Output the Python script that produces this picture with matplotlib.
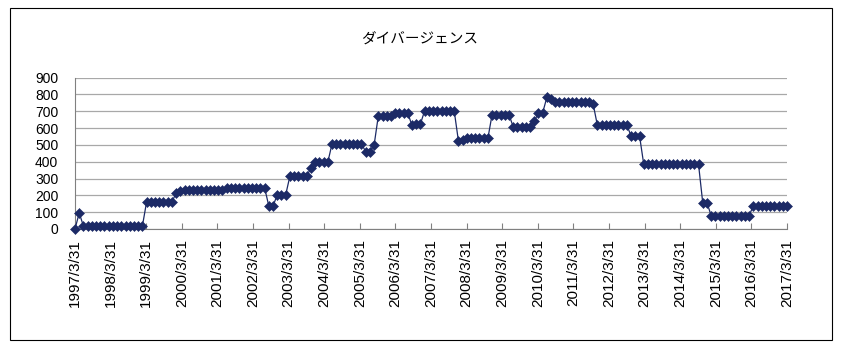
import pandas as pd
import matplotlib.pyplot as plt
import matplotlib.patches as mpatches

plt.rcParams['font.family'] = ['Liberation Sans', 'Noto Sans CJK JP', 'DejaVu Sans']

title = 'ダイバージェンス'
start_date = '1997-03-31'
end_date = '2017-03-31'
tick_years = list(range(1997, 2018))

divergence = [
    0, 95,
    18, 18, 18, 18, 18, 18, 18, 18, 18, 18, 18, 18, 18, 18, 18,
    162, 162, 162, 162, 162, 162, 162,
    212, 228,
    230, 230, 230, 230, 230, 230, 230, 230, 230, 230,
    245, 245, 245, 245, 245, 245, 245, 245, 245, 245,
    137, 137,
    202, 202, 202,
    313, 313, 313, 313, 313,
    364,
    396, 396, 396, 396,
    505, 505, 505, 505, 505, 505, 505, 505,
    460, 460,
    499,
    673, 673, 673, 673,
    687, 687, 687, 687,
    615, 625, 625,
    703, 703, 703, 703, 703, 703, 703, 703,
    525, 527,
    538, 538, 538, 538, 538, 538,
    680, 680, 680, 680, 680,
    608, 608, 608, 608, 608,
    643, 687, 690, 782, 775,
    757, 757, 757, 757, 757, 757, 757, 757, 757,
    741,
    615, 615, 615, 615, 615, 615, 615, 615,
    553, 553, 553,
    384, 384, 384, 384, 384, 384, 384, 384, 384, 384, 384, 384, 384, 384,
    156, 156,
    80, 80, 80, 80, 80, 80, 80, 80, 80, 80,
    137, 137, 137, 137, 137, 137, 137, 137, 137,
]

dates = pd.date_range(start_date, end_date, periods=len(divergence))
ticks = pd.to_datetime([f'{y}-03-31' for y in tick_years])
tick_labels = [f'{y}/3/31' for y in tick_years]

fig = plt.figure(figsize=(8.42, 3.58), dpi=100)
ax = fig.add_axes([75 / 842, 129 / 358, 712 / 842, 151.5 / 358])

ax.plot(dates, divergence, color='#1c2a66', lw=0.9, marker='D', markersize=4.6,
        markeredgewidth=0.4, clip_on=False, zorder=3)

ax.set_xlim(dates[0], dates[-1])
ax.set_ylim(0, 900)
ax.set_yticks(range(0, 901, 100))
ax.set_xticks(ticks)
ax.set_xticklabels(tick_labels, rotation=90, fontsize=11)
ax.tick_params(axis='y', length=0, pad=12, labelsize=10)
ax.tick_params(axis='x', direction='in', length=4, width=0.8, color='#808080', pad=7)

ax.grid(axis='y', color='#a8a8a8', lw=0.9)
ax.set_axisbelow(True)
for side in ['top', 'right']:
    ax.spines[side].set_visible(False)
ax.spines['left'].set_color('#808080')
ax.spines['bottom'].set_color('#808080')

fig.text(420 / 842, 1 - 40 / 358, title, ha='center', va='center', fontsize=10.5,
         family=['Noto Sans CJK JP', 'DejaVu Sans'])

# chart area border
fig.patches.append(mpatches.Rectangle((10 / 842, 18 / 358), 822 / 842, 332 / 358,
                                      transform=fig.transFigure, fill=False,
                                      edgecolor='black', lw=0.8))

fig.savefig('out.png', dpi=100)
